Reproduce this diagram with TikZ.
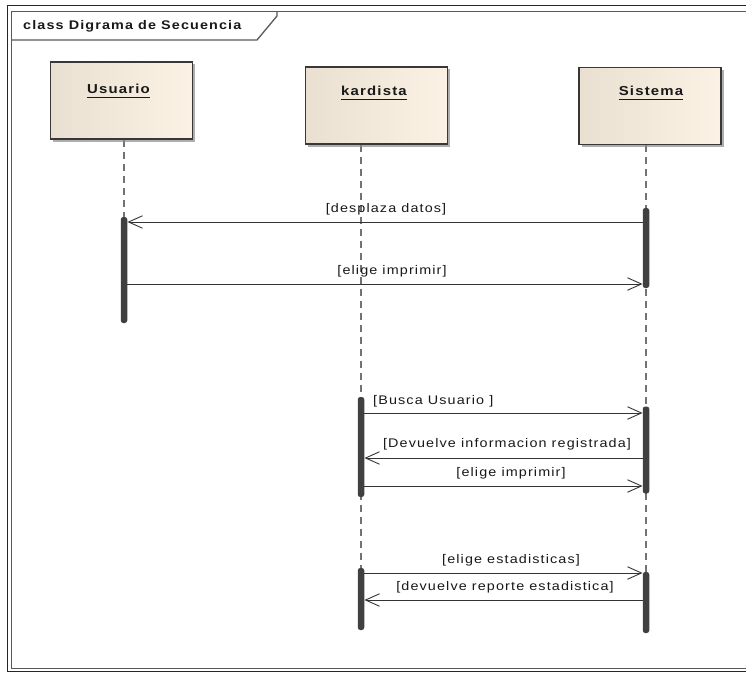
\documentclass[tikz,border=0pt]{standalone}
\usepackage{fontspec}
\setmainfont{Liberation Sans}
\newfontfamily\umlfont[FakeStretch=1.15,LetterSpace=9]{Liberation Sans}
\usetikzlibrary{arrows.meta,shadows,calc,backgrounds}

\definecolor{headL}{RGB}{234,224,209}
\definecolor{headR}{RGB}{251,242,229}
\definecolor{ink}{RGB}{25,25,25}
\definecolor{barc}{RGB}{64,64,64}

\tikzset{
  head/.style={draw=black!78, line width=1.4pt, inner sep=0pt,
    minimum width=142pt, minimum height=77pt,
    left color=headL, right color=headR,
    drop shadow={shadow xshift=2.5pt, shadow yshift=-2.5pt, fill=black!45, opacity=0.7}},
  headname/.style={font=\umlfont\bfseries\fontsize{13}{15}\selectfont, text=ink, inner sep=0pt},
  titletext/.style={font=\umlfont\bfseries\fontsize{12.5}{15}\selectfont, text=ink, inner sep=0pt},
  uline/.style={draw=ink, line width=1.6pt},
  lifeline/.style={draw=black!55, line width=2pt, dash pattern=on 7pt off 5pt},
  actbar/.style={fill=barc, draw=none, rounded corners=2.5pt, minimum width=6.5pt, inner sep=0pt},
  msg/.style={draw=black!80, line width=0.9pt,
    -{Straight Barb[length=14pt, width=12.5pt, line width=0.9pt]}},
  lbl/.style={font=\umlfont\fontsize{12.5}{15}\selectfont, text=ink, inner sep=0pt},
}

\begin{document}
\begin{tikzpicture}[x=1pt, y=-1pt]
\path[use as bounding box] (0,0) rectangle (746,674);
\clip (0,0) rectangle (746,674);

% diagram frame (outer and inner border)
\draw[black!85, line width=0.9pt] (760,5) -- (7,5) -- (7,671.5) -- (760,671.5);
\draw[black!65, line width=1.6pt] (760,11.5) -- (11.5,11.5) -- (11.5,668.5) -- (760,668.5);

% frame title tab
\draw[black!65, line width=1.3pt] (11.5,40) -- (257,40) -- (277,16) -- (277,11.5);
\node[titletext, anchor=west] (hdr) at (23,26) {class Digrama de Secuencia};

% lifeline heads
\node[head] (u) at (121.5,100.5) {};
\node[head] (k) at (376.5,105.5) {};
\node[head] (s) at (650,106) {};

\node[headname] (un) at (118.5,89) {Usuario};
\node[headname] (kn) at (374,91) {kardista};
\node[headname] (sn) at (651,91) {Sistema};
\draw[uline] ([yshift=-3.5pt]un.south west) -- ([yshift=-3.5pt]un.south east);
\draw[uline] ([yshift=-3.5pt]kn.south west) -- ([yshift=-3.5pt]kn.south east);
\draw[uline] ([yshift=-3.5pt]sn.south west) -- ([yshift=-3.5pt]sn.south east);

% activation bars
\node[actbar, minimum height=106pt] (ub)  at (124,270) {};
\node[actbar, minimum height=80pt]  (sb1) at (646,248) {};
\node[actbar, minimum height=100pt] (kb1) at (361,447) {};
\node[actbar, minimum height=87pt]  (sb2) at (646,450) {};
\node[actbar, minimum height=62pt]  (kb2) at (361,599) {};
\node[actbar, minimum height=61pt]  (sb3) at (646,602.5) {};

% lifelines behind the bars
\begin{scope}[on background layer]
\draw[lifeline] (ub |- u.south) -- (ub.center);
\draw[lifeline] (kb1 |- k.south) -- (kb2.center);
\draw[lifeline] (sb1 |- s.south) -- (sb3.center);
\end{scope}

% message heights
\coordinate (y1) at (0,222);
\coordinate (y2) at (0,284);
\coordinate (y3) at (0,413);
\coordinate (y4) at (0,458);
\coordinate (y5) at (0,486);
\coordinate (y6) at (0,573);
\coordinate (y7) at (0,600);

% messages
\draw[msg] (sb1.west |- y1) -- (ub.east |- y1);
\draw[msg] (ub.east |- y2) -- (sb1.west |- y2);
\draw[msg] (kb1.east |- y3) -- (sb2.west |- y3);
\draw[msg] (sb2.west |- y4) -- (kb1.east |- y4);
\draw[msg] (kb1.east |- y5) -- (sb2.west |- y5);
\draw[msg] (kb2.east |- y6) -- (sb3.west |- y6);
\draw[msg] (sb3.west |- y7) -- (kb2.east |- y7);

% message labels
\node[lbl] (l1) at (386,209) {[desplaza datos]};
\node[lbl] (l2) at (392,271) {[elige imprimir]};
\node[lbl, anchor=west] (l3) at (373,401) {[Busca Usuario ]};
\node[lbl] (l4) at (507,444) {[Devuelve informacion registrada]};
\node[lbl] (l5) at (511,473) {[elige imprimir]};
\node[lbl] (l6) at (511,560) {[elige estadisticas]};
\node[lbl] (l7) at (505,587) {[devuelve reporte estadistica]};
\end{tikzpicture}
\end{document}
